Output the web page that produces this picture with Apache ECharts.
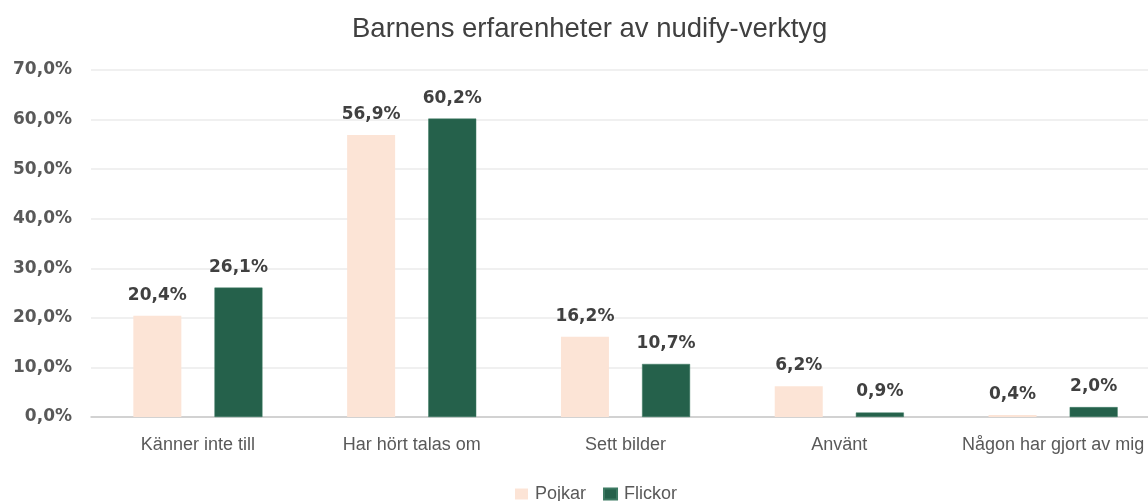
<!DOCTYPE html>
<html>
<head>
<meta charset="utf-8">
<script src="https://cdn.jsdelivr.net/npm/echarts@6/dist/echarts.min.js"></script>
<style>
    html, body { margin: 0; padding: 0; background: #fff; }
    #chart { width: 1148px; height: 501px; }
</style>
</head>
<body>
<div id="chart"></div>
<script>
    // kategorier och värden (procent)
    const categories = ['Känner inte till', 'Har hört talas om', 'Sett bilder', 'Använt', 'Någon har gjort av mig']
    const pojkar = [20.4, 56.9, 16.2, 6.2, 0.4]
    const flickor = [26.1, 60.2, 10.7, 0.9, 2.0]
    const seriesNames = ['Pojkar', 'Flickor']

    const fmt = v => v.toFixed(1).replace('.', ',') + '%'
    const font = '"Liberation Sans", Arial, sans-serif'
    const numFont = '"DejaVu Sans", sans-serif'

    const chart = echarts.init(document.getElementById('chart'))
    const labelStyle = {
        show: true,
        position: 'top',
        distance: 12,
        color: '#404040',
        fontSize: 17,
        fontWeight: 'bold',
        fontFamily: numFont,
        formatter: p => fmt(p.value)
    }
    chart.setOption({
        animation: false,
        title: {
            text: 'Barnens erfarenheter av nudify-verktyg',
            left: 347,
            top: 10,
            textStyle: { color: '#404040', fontSize: 27.5, fontWeight: 'normal', fontFamily: font }
        },
        legend: {
            data: seriesNames,
            left: 510,
            top: 480,
            itemWidth: 13,
            itemHeight: 11,
            itemGap: 17,
            icon: 'rect',
            textStyle: { color: '#595959', fontSize: 18, fontFamily: font, padding: [0, 0, 0, 2] }
        },
        grid: { left: 91, width: 1069, top: 70, bottom: 84, containLabel: false, outerBoundsMode: 'none' },
        xAxis: {
            type: 'category',
            data: categories,
            axisTick: { show: false },
            axisLine: { lineStyle: { color: '#c8c8c8', width: 1.5 } },
            axisLabel: { interval: 0, color: '#595959', fontSize: 18, fontFamily: font, margin: 19 }
        },
        yAxis: {
            type: 'value',
            min: 0,
            max: 70,
            interval: 10,
            axisLine: { show: false },
            axisTick: { show: false },
            splitLine: { lineStyle: { color: '#ebebeb', width: 1.5 } },
            axisLabel: { color: '#595959', fontSize: 17, fontWeight: 'bold', fontFamily: numFont, margin: 19, formatter: fmt }
        },
        series: [
            {
                name: seriesNames[0],
                type: 'bar',
                data: pojkar,
                barWidth: 48,
                barGap: '69%',
                itemStyle: { color: '#fce4d6' },
                label: labelStyle
            },
            {
                name: seriesNames[1],
                type: 'bar',
                data: flickor,
                barWidth: 48,
                itemStyle: { color: '#25614b', borderColor: '#3d7a63', borderWidth: 0.5 },
                label: labelStyle
            }
        ]
    })
</script>
</body>
</html>
